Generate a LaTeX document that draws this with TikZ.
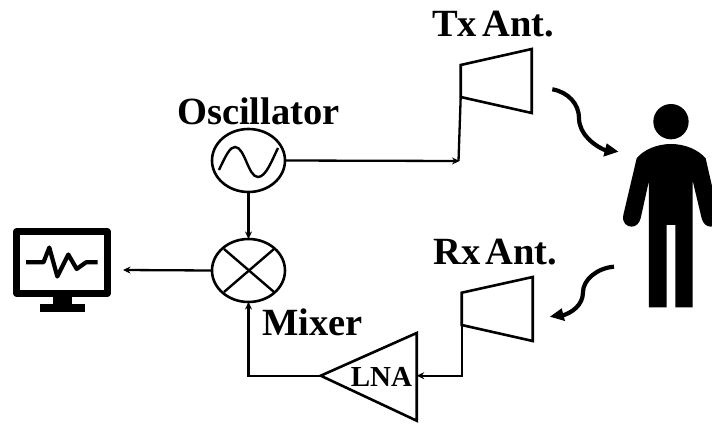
\documentclass[tikz,border=0pt]{standalone}
\usepackage{fontspec}
\setmainfont{Liberation Serif}
\usetikzlibrary{arrows.meta,shapes.geometric,calc}
\tikzset{
  wire/.style={line width=2.3pt,line join=miter},
  flow/.style={wire,-{Stealth[length=7.5pt,width=7pt]}},
  blockline/.style={line width=2.6pt,line join=miter},
  round block/.style={ellipse,draw,line width=2.6pt,minimum width=73pt,minimum height=63pt,inner sep=0pt,outer sep=0pt},
  biglabel/.style={anchor=base west,inner sep=0pt,font=\fontsize{38.5}{40}\selectfont\bfseries},
  wave/.style={line width=4.2pt},
  wavehead/.style={fill=black,draw=none}
}
\begin{document}
\begin{tikzpicture}[x=1pt,y=-1pt]
\useasboundingbox (0,0) rectangle (712,423);
% labels
\node[biglabel] (txl) at (432,36) {Tx\hspace{0.14em}Ant.};
\node[biglabel] (oscl) at (177,124) {Oscillator};
\node[biglabel] (rxl) at (433,264) {Rx\hspace{0.14em}Ant.};
\node[biglabel] (mixl) at (262,335) {Mixer};
% oscillator and mixer
\node[round block] (osc) at (248.5,160.5) {};
\node[round block] (mix) at (248.5,270.5) {};
\draw[line width=2.4pt] (219,170) .. controls (226,155) and (230,147) .. (235,147) .. controls (245,147) and (248,177) .. (258,177) .. controls (266,177) and (272,160) .. (278,148);
\draw[line width=2.4pt] (224,249) -- (274,292);
\draw[line width=2.4pt] (224,292) -- (274,249);
% antennas
\coordinate (txa) at (460.7,65);
\coordinate (txb) at (531.7,49);
\coordinate (txc) at (531.7,113);
\coordinate (txd) at (460.7,97);
\coordinate (rxa) at (461.7,292.7);
\coordinate (rxb) at (532.7,277);
\coordinate (rxc) at (532.7,341);
\coordinate (rxd) at (461.7,325);
\draw[blockline] (txa) -- (txb) -- (txc) -- (txd) -- cycle;
\draw[blockline] (rxa) -- (rxb) -- (rxc) -- (rxd) -- cycle;
% LNA
\coordinate (lnatip) at (320.7,375.7);
\coordinate (lnatop) at (416.7,333);
\coordinate (lnabot) at (416.7,420.7);
\coordinate (lnain) at (416.7,375.7);
\draw[blockline] (lnatip) -- (lnatop) -- (lnabot) -- cycle;
\node[anchor=base,inner sep=0pt,font=\fontsize{29}{30}\selectfont\bfseries] (lna) at (381.5,386) {LNA};
% monitor
\draw[line width=6.5pt,line join=round,fill=white] (16.5,231.5) rectangle (107.5,293.5);
\fill (53,297) rectangle (72,305);
\fill (40,304) rectangle (84.5,312);
\draw[line width=4.2pt,line join=round] (26,262.3) -- (43.5,262.3) -- (49.3,247.5) -- (57.3,276.5) -- (68.3,254.5) -- (76.7,269) -- (86,262.3) -- (97.7,262.3);
\coordinate (mon) at (123,270);
% connectors
\coordinate (txjoin) at (458.5,161);
\draw[flow] (osc.south) -- (mix.north);
\draw[flow] (mix.west) -- (mon);
\draw[flow,shorten >=-1pt] (osc.east) -- (txjoin);
\draw[wire] (txjoin) -- (txd);
\draw[flow] (rxd) -- (461.7,375.7) -- (lnain);
\draw[flow] (lnatip) -- (248.5,375.7) -- (mix.south);
% person
\begin{scope}[shift={(540,90)},x=0.3333pt,y=-0.3333pt]
\fill (393,95) circle[radius=53];
\fill (393,162) .. controls (350,162) and (310,180) .. (290,205)
  -- (250,375) .. controls (245,400) and (262,410) .. (275,410)
  .. controls (288,410) and (298,400) .. (302,385)
  -- (327,272) -- (327,652) -- (380,652) -- (380,405) -- (406,405) -- (406,652) -- (458,652) -- (458,272)
  -- (485,385) .. controls (489,400) and (499,410) .. (512,410)
  .. controls (525,410) and (541,400) .. (536,375)
  -- (497,205) .. controls (476,180) and (436,162) .. (393,162) -- cycle;
\end{scope}
% wave arrows
\draw[wave] (552.3,89.3) .. controls (568,92) and (579,104) .. (579,118) .. controls (579,134) and (594,146) .. (607,151);
\fill[wavehead] (618.3,151.7) -- (606.7,143.3) -- (603.3,156.7) -- cycle;
\draw[wave] (614,266.7) .. controls (597,268) and (583,280) .. (583,292) .. controls (583,305) and (572,313) .. (561,316);
\fill[wavehead] (550,316.7) -- (561.7,308.3) -- (565,321) -- cycle;
\end{tikzpicture}
\end{document}
